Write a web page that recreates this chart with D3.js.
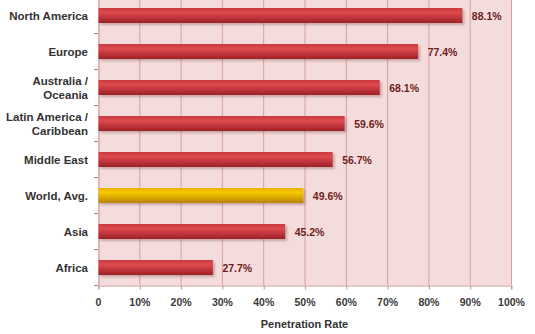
<!DOCTYPE html>
<html><head><meta charset="utf-8">
<script src="https://cdn.jsdelivr.net/npm/d3@7/dist/d3.min.js"></script>
<style>body{margin:0;background:#fff}svg{display:block}</style>
</head><body>
<script>
const categories = ["North America","Europe","Australia / Oceania","Latin America / Caribbean","Middle East","World, Avg.","Asia","Africa"];
const labelLines = [["North America"],["Europe"],["Australia /","Oceania"],["Latin America /","Caribbean"],["Middle East"],["World, Avg."],["Asia"],["Africa"]];
const values = [88.1,77.4,68.1,59.6,56.7,49.6,45.2,27.7];
const highlight = "World, Avg.";
const xTicks = [0,10,20,30,40,50,60,70,80,90,100];
const xTitle = "Penetration Rate";

const FONT="Liberation Sans, Arial, sans-serif";
const W=535,H=334, L=98, R=511, T=-3, B=285;
const svg=d3.select("body").append("svg").attr("width",W).attr("height",H);
const defs=svg.append("defs");
const gr=defs.append("linearGradient").attr("id","gRed").attr("x1",0).attr("y1",0).attr("x2",0).attr("y2",1);
gr.append("stop").attr("offset","0%").attr("stop-color","#c93a3e");
gr.append("stop").attr("offset","30%").attr("stop-color","#de4a4d");
gr.append("stop").attr("offset","100%").attr("stop-color","#9e2228");
const gg=defs.append("linearGradient").attr("id","gGold").attr("x1",0).attr("y1",0).attr("x2",0).attr("y2",1);
gg.append("stop").attr("offset","0%").attr("stop-color","#e8b000");
gg.append("stop").attr("offset","30%").attr("stop-color","#f8c800");
gg.append("stop").attr("offset","100%").attr("stop-color","#b88400");
const f=defs.append("filter").attr("id","sh").attr("x","-5%").attr("y","-30%").attr("width","115%").attr("height","180%");
f.append("feDropShadow").attr("dx",2).attr("dy",2).attr("stdDeviation",1.2).attr("flood-color","#7a4040").attr("flood-opacity",0.35);

const x=d3.scaleLinear().domain([0,100]).range([L,R]);
const y=d3.scaleBand().domain(categories).range([T,B]);

svg.append("rect").attr("x",L).attr("y",T).attr("width",R-L).attr("height",B-T).attr("fill","#f4dcdc");
svg.append("g").selectAll("line").data(xTicks.slice(1)).join("line")
  .attr("x1",d=>x(d)+0.5).attr("x2",d=>x(d)+0.5).attr("y1",T).attr("y2",B)
  .attr("stroke","#d4a0a6").attr("stroke-width",1);

// y axis
const ya=svg.append("g").attr("transform",`translate(${L+0.5},0)`)
  .call(d3.axisLeft(y).tickSize(0).tickFormat(""));
ya.select(".domain").attr("stroke","#c89098");
svg.append("g").selectAll("line").data(d3.range(categories.length+1)).join("line")
  .attr("x1",L-4).attr("x2",L).attr("y1",i=>Math.round(T+i*y.step())+0.5).attr("y2",i=>Math.round(T+i*y.step())+0.5)
  .attr("stroke","#b08088");

// x axis
const xa=svg.append("g").attr("transform",`translate(0,${B+0.5})`)
  .call(d3.axisBottom(x).tickValues(xTicks).tickSize(4).tickFormat(d=>d===0?"0":d+"%"));
xa.select(".domain").attr("stroke","#c89098");
xa.selectAll(".tick line").attr("stroke","#c89098").attr("transform","translate(0.5,0)");
xa.selectAll("text").attr("font-family",FONT).attr("font-size",10.5)
  .attr("font-weight","bold").attr("fill","#3a3a3a").attr("dy","1.3em");

const bh=15;
svg.append("g").selectAll("rect").data(categories).join("rect")
  .attr("x",L+0.5).attr("y",d=>y(d)+y.bandwidth()/2-bh/2+0.5).attr("height",bh)
  .attr("width",(d,i)=>x(values[i])-L)
  .attr("fill",d=>d===highlight?"url(#gGold)":"url(#gRed)").attr("filter","url(#sh)");

svg.append("g").selectAll("text").data(categories).join("text")
  .attr("x",(d,i)=>x(values[i])+10).attr("y",d=>y(d)+y.bandwidth()/2+1).attr("dy","0.35em")
  .attr("font-family",FONT).attr("font-size",10.5).attr("font-weight","bold")
  .attr("fill","#6e1c22").text((d,i)=>values[i].toFixed(1)+"%");

const lg=svg.append("g").selectAll("text").data(categories).join("text")
  .attr("text-anchor","end").attr("font-family",FONT).attr("font-size",11.5)
  .attr("font-weight","bold").attr("fill","#333")
  .attr("transform",d=>`translate(88,${y(d)+y.bandwidth()/2+1})`);
lg.each(function(d,i){
  const lines=labelLines[i], n=lines.length;
  d3.select(this).selectAll("tspan").data(lines).join("tspan").attr("x",0)
    .attr("y",(l,j)=>(j-(n-1)/2)*14).attr("dy","0.35em").text(l=>l);
});

svg.append("text").attr("x",x(50)).attr("y",328).attr("text-anchor","middle")
  .attr("font-family",FONT).attr("font-size",11).attr("font-weight","bold")
  .attr("fill","#333").text(xTitle);
</script>
</body></html>
